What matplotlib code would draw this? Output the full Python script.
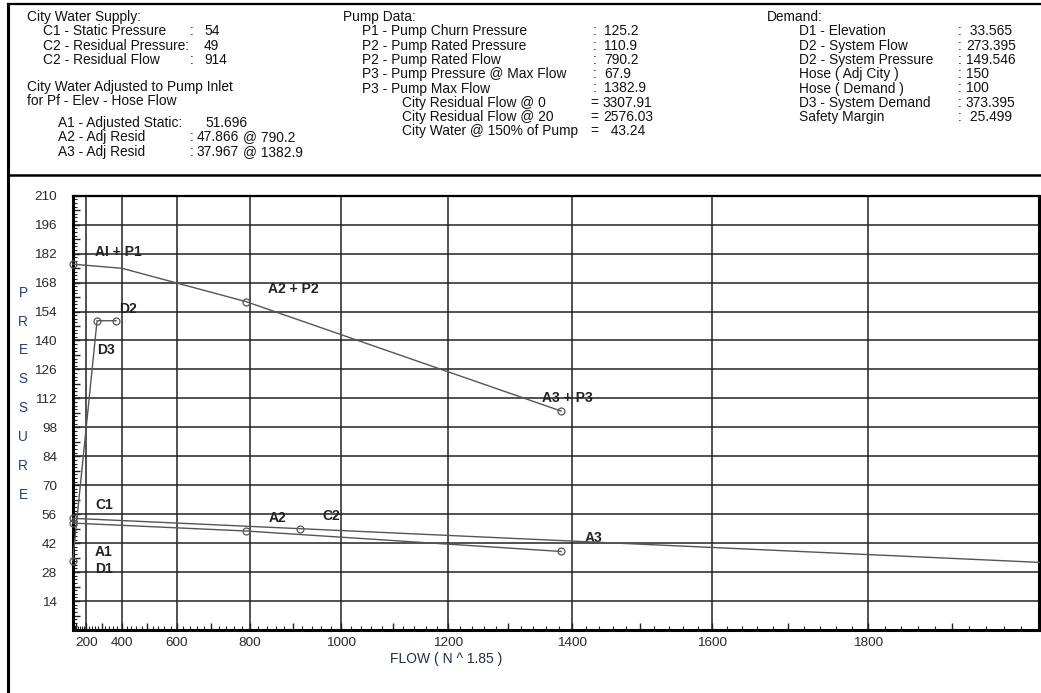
import numpy as np
import matplotlib
matplotlib.use('Agg')
import matplotlib.pyplot as plt
from matplotlib.lines import Line2D
from matplotlib.ticker import MultipleLocator, FuncFormatter
from matplotlib.transforms import blended_transform_factory, offset_copy

plt.rcParams['font.family'] = ['Liberation Sans', 'DejaVu Sans']

# --- chart data ---
city_flow = [0, 914, 2000]
city_pres = [54, 49, 32.7]
adj_flow = [0, 790.2, 1382.9]
adj_pres = [51.696, 47.866, 37.967]
pump_flow = [0, 400, 790.2, 1382.9]
pump_pres = [176.896, 174.9, 158.766, 105.867]
demand_flow = [0, 273.395, 373.395]
demand_pres = [33.565, 149.546, 149.546]

x_ticks = [200, 400, 600, 800, 1000, 1200, 1400, 1600, 1800]
y_ticks = [14, 28, 42, 56, 70, 84, 98, 112, 126, 140, 154, 168, 182, 196, 210]
y_letters = list('PRESSURE')
y_letter_at = [168, 154, 140, 126, 112, 98, 84, 70]

label_text = ['AI + P1', 'A2 + P2', 'A3 + P3', 'D2', 'D3', 'C1', 'A2', 'C2', 'A1', 'D1', 'A3']
label_x = [260, 843, 1353, 388, 271, 260, 843, 962, 260, 260, 1418]
label_y = [182.8, 164.7, 112.3, 155.4, 135.5, 60.4, 54.0, 55.1, 37.6, 29.4, 44.6]

# header table
supply_lbl = ['C1 - Static Pressure', 'C2 - Residual Pressure:', 'C2 - Residual Flow']
supply_sep = [':', '', ':']
supply_val = ['54', '49', '914']
adj_lbl = ['A1 - Adjusted Static:', 'A2 - Adj Resid', 'A3 - Adj Resid']
adj_sep = ['', ':', ':']
adj_val = ['51.696', '47.866', '37.967']
adj_at = ['', '@ 790.2', '@ 1382.9']
pump_lbl = ['P1 - Pump Churn Pressure', 'P2 - Pump Rated Pressure', 'P2 - Pump Rated Flow',
            'P3 - Pump Pressure @ Max Flow', 'P3 - Pump Max Flow']
pump_val = ['125.2', '110.9', '790.2', '67.9', '1382.9']
city_lbl = ['City Residual Flow @ 0', 'City Residual Flow @ 20', 'City Water @ 150% of Pump']
city_val = ['3307.91', '2576.03', '  43.24']
dem_lbl = ['D1 - Elevation', 'D2 - System Flow', 'D2 - System Pressure', 'Hose ( Adj City )',
           'Hose ( Demand )', 'D3 - System Demand', 'Safety Margin']
dem_val = [' 33.565', '273.395', '149.546', '150', '100', '373.395', ' 25.499']

W, H = 1041, 693
fig = plt.figure(figsize=(W / 100, H / 100), dpi=100)

def fx(px):
    return px / W

def fy(py):
    return 1 - py / H

# frame around the sheet
for xs, ys, lw in [([8, 8], [4, 693], 2.2), ([8, 1041], [4, 4], 1.6), ([8, 1041], [174.7, 174.7], 1.8)]:
    fig.add_artist(Line2D([fx(v) for v in xs], [fy(v) for v in ys], color='black', lw=lw))

hdr = dict(fontsize=9.9, va='center', color='#111111')
row = 14.3
top = 31.3
fig.text(fx(27), fy(17), 'City Water Supply:', **hdr)
for i, (l, s, v) in enumerate(zip(supply_lbl, supply_sep, supply_val)):
    fig.text(fx(43), fy(top + i * row), l, **hdr)
    fig.text(fx(190), fy(top + i * row), s, **hdr)
    fig.text(fx(204), fy(top + i * row), v, **hdr)
fig.text(fx(27), fy(87), 'City Water Adjusted to Pump Inlet', **hdr)
fig.text(fx(27), fy(101.3), 'for Pf - Elev - Hose Flow', **hdr)
for i, (l, s, v, a) in enumerate(zip(adj_lbl, adj_sep, adj_val, adj_at)):
    y = 123 + i * row
    fig.text(fx(58), fy(y), l, **hdr)
    fig.text(fx(190), fy(y), s, **hdr)
    fig.text(fx(205 if i == 0 else 197), fy(y), v, **hdr)
    fig.text(fx(243), fy(y), a, **hdr)

fig.text(fx(343), fy(17), 'Pump Data:', **hdr)
for i, (l, v) in enumerate(zip(pump_lbl, pump_val)):
    fig.text(fx(362), fy(top + i * row), l, **hdr)
    fig.text(fx(593), fy(top + i * row), ':', **hdr)
    fig.text(fx(604), fy(top + i * row), v, **hdr)
for i, (l, v) in enumerate(zip(city_lbl, city_val)):
    y = top + (i + 5) * row
    fig.text(fx(402), fy(y), l, **hdr)
    fig.text(fx(590), fy(y), '=', **hdr)
    fig.text(fx(603), fy(y), v, **hdr)

fig.text(fx(767), fy(17), 'Demand:', **hdr)
for i, (l, v) in enumerate(zip(dem_lbl, dem_val)):
    fig.text(fx(799), fy(top + i * row), l, **hdr)
    fig.text(fx(958), fy(top + i * row), ':', **hdr)
    fig.text(fx(966), fy(top + i * row), v, **hdr)

# --- plot ---
ax = fig.add_axes([fx(72.7), fy(630), fx(1039.3) - fx(72.7), fy(195.7) - fy(630)])
ax.set_xscale('function', functions=(lambda x: np.sign(x) * np.abs(x) ** 1.85,
                                      lambda x: np.sign(x) * np.abs(x) ** (1 / 1.85)))
ax.set_xlim(0, 2000)
ax.set_ylim(0, 210)

for v in x_ticks:
    ax.axvline(v, color='#222222', lw=1.1, zorder=2.5)
for v in y_ticks[:-1]:
    ax.axhline(v, color='#222222', lw=1.1, zorder=2.5)

line_kw = dict(color='#555555', lw=1.0, marker='o', ms=5, mfc='none', mec='#555555',
               mew=0.9, clip_on=False, zorder=3)
ax.plot(city_flow, city_pres, markevery=[0, 1], **line_kw)
ax.plot(adj_flow, adj_pres, markevery=[0, 1, 2], **line_kw)
ax.plot(pump_flow, pump_pres, markevery=[0, 2, 3], **line_kw)
ax.plot(demand_flow, demand_pres, markevery=[0, 1, 2], **line_kw)

for t, x, y in zip(label_text, label_x, label_y):
    ax.text(x, y, t, fontsize=10, fontweight='bold', color='#222222', va='center', ha='left', zorder=2)

ax.xaxis.set_major_locator(MultipleLocator(100))
ax.xaxis.set_minor_locator(MultipleLocator(20))
ax.xaxis.set_major_formatter(FuncFormatter(lambda v, p: f'{v:.0f}' if v in x_ticks else ''))
ax.yaxis.set_major_locator(MultipleLocator(7))
ax.yaxis.set_minor_locator(MultipleLocator(1.75))
ax.yaxis.set_major_formatter(FuncFormatter(lambda v, p: f'{v:.0f}' if v in y_ticks else ''))
ax.tick_params(axis='both', which='both', direction='in', colors='#222222', labelcolor='#2a2a2a',
               labelsize=9.7)
ax.tick_params(axis='x', which='major', length=5, width=1, pad=5)
ax.tick_params(axis='x', which='minor', length=3, width=0.8)
ax.tick_params(axis='y', which='major', length=5, width=1, pad=11.3)
ax.tick_params(axis='y', which='minor', length=3, width=0.8)
ax.tick_params(top=False, right=False)

for side in ['left', 'bottom', 'right']:
    ax.spines[side].set_linewidth(2.2)
ax.spines['top'].set_linewidth(1.6)

off = offset_copy(blended_transform_factory(fig.transFigure, ax.transData), fig=fig, y=-10, units='dots')
for ch, v in zip(y_letters, y_letter_at):
    ax.text(fx(23), v, ch, transform=off, fontsize=9.8, color='#1f3f7a', ha='center', va='center')

fig.text(fx(446), fy(659), 'FLOW ( N ^ 1.85 )', fontsize=10, color='#1f2d4d', ha='center', va='center')

fig.savefig('out.png', dpi=100)
